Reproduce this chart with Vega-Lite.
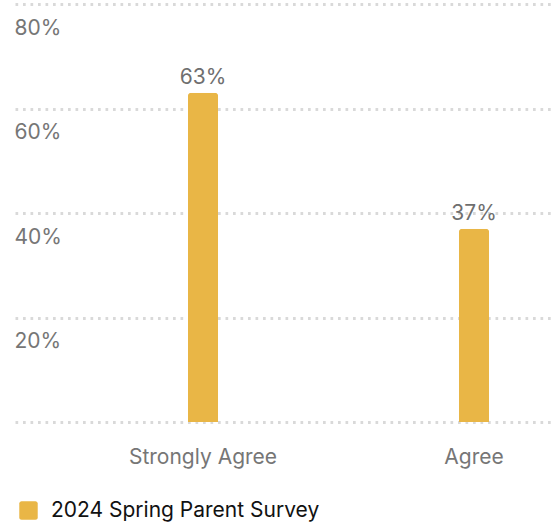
{
  "$schema": "https://vega.github.io/schema/vega-lite/v6.json",
  "autosize": "none",
  "width": 540,
  "height": 418,
  "padding": {"left": 15, "top": 4, "right": 5, "bottom": 104},
  "config": {"view": {"stroke": null}, "font": "Inter"},
  "data": {"values": [
    {"response": "Strongly Agree", "value": 63, "label": "63%", "series": "2024 Spring Parent Survey"},
    {"response": "Agree", "value": 37, "label": "37%", "series": "2024 Spring Parent Survey"}
  ]},
  "encoding": {
    "x": {"field": "response", "type": "nominal", "sort": ["Strongly Agree", "Agree"],
      "scale": {"paddingInner": 0.889, "paddingOuter": 0.4408, "align": 0.724},
      "axis": {"title": null, "labelAngle": 0, "domain": false, "ticks": false, "labelFont": "Inter", "labelFontSize": 21, "labelColor": "#767676", "labelPadding": 24}},
    "y": {"field": "value", "type": "quantitative", "scale": {"domain": [0, 80], "nice": false},
      "axis": {"title": null, "values": [0, 20, 40, 60, 80], "labelExpr": "datum.value === 0 ? '' : datum.value + '%'", "domain": false, "ticks": false, "labelAlign": "left", "labelBaseline": "middle", "labelOffset": 24, "labelPadding": 1, "labelFont": "Inter", "labelFontSize": 21, "labelColor": "#767676", "grid": true, "gridColor": "#d9d9d9", "gridDash": [2.7, 4.8], "gridWidth": 2.8}}
  },
  "layer": [
    {"mark": {"type": "bar", "cornerRadiusTopLeft": 3, "cornerRadiusTopRight": 3},
      "encoding": {"color": {"field": "series", "type": "nominal", "scale": {"range": ["#E9B646"]},
        "legend": {"title": null, "orient": "none", "legendX": 3, "legendY": 496, "labelFont": "Inter", "labelFontSize": 21, "labelColor": "#111111", "labelOffset": 12, "labelLimit": 500,
          "symbolType": "M-0.75,-1 h1.5 a0.25,0.25 0 0 1 0.25,0.25 v1.5 a0.25,0.25 0 0 1 -0.25,0.25 h-1.5 a0.25,0.25 0 0 1 -0.25,-0.25 v-1.5 a0.25,0.25 0 0 1 0.25,-0.25 z",
          "symbolSize": 340, "symbolStrokeWidth": 0, "symbolOpacity": 1}}}},
    {"mark": {"type": "text", "baseline": "alphabetic", "dy": -9, "font": "Inter", "fontSize": 21, "color": "#6f6f6f"},
      "encoding": {"text": {"field": "label", "type": "nominal"}}}
  ]
}
